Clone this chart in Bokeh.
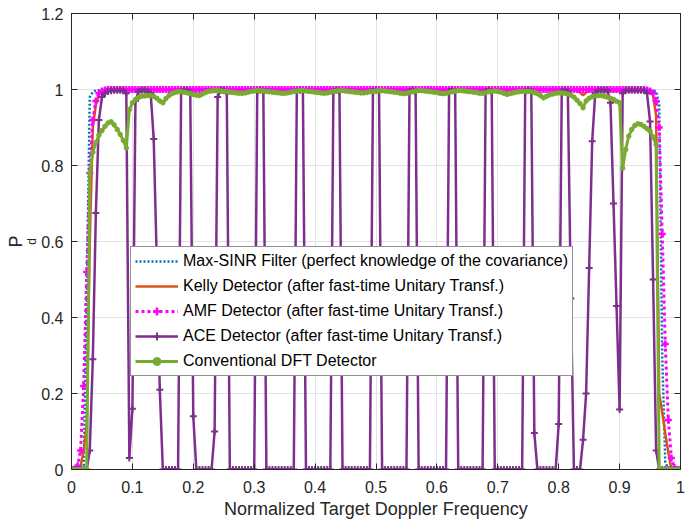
import numpy as np
from bokeh.plotting import figure
from bokeh.models import (Legend, LegendItem, LinearAxis, FixedTicker, Range1d, Title)
from bokeh.embed import file_html
from bokeh.resources import INLINE

# ---------------- data ----------------
freq = np.linspace(0.0, 1.0, 201)   # normalized target Doppler frequency grid (step 0.005)

# Max-SINR filter (sparse breakpoints)
msinr_x = [0, 0.02, 0.025, 0.03, 0.035, 0.04, 0.95, 0.96, 0.965, 0.97, 0.975, 0.98, 1.0]
msinr_y = [0, 0, 0.45, 0.98, 0.993, 0.998, 0.999, 0.995, 0.96, 0.3, 0.02, 0, 0]

# Kelly detector (sparse breakpoints)
kelly_x = [0, 0.01, 0.015, 0.02, 0.025, 0.03, 0.035, 0.04, 0.045, 0.05, 0.055,
           0.83, 0.84, 0.85, 0.95, 0.955, 0.96, 0.965, 0.97, 0.975, 0.98, 0.985, 1.0]
kelly_y = [0, 0.003, 0.01, 0.05, 0.12, 0.6, 0.9, 0.96, 0.985, 0.995, 0.999,
           0.999, 0.985, 0.999, 0.996, 0.985, 0.93, 0.2, 0.15, 0.095, 0.045, 0.0, 0.0]

# AMF detector
amf = [
    0, 0, 0.01, 0.05, 0.22, 0.52, 0.78, 0.92, 0.97, 0.99,
    0.996, 0.999, 1, 1, 1, 1, 1, 1, 1, 1,
    1, 1, 1, 1, 1, 1, 1, 1, 1, 1,
    1, 1, 1, 1, 1, 1, 1, 1, 1, 1,
    1, 1, 1, 1, 1, 1, 1, 1, 1, 1,
    1, 1, 1, 1, 1, 1, 1, 1, 1, 1,
    1, 1, 1, 1, 1, 1, 1, 1, 1, 1,
    1, 1, 1, 1, 1, 1, 1, 1, 1, 1,
    1, 1, 1, 1, 1, 1, 1, 1, 1, 1,
    1, 1, 1, 1, 1, 1, 1, 1, 1, 1,
    1, 1, 1, 1, 1, 1, 1, 1, 1, 1,
    1, 1, 1, 1, 1, 1, 1, 1, 1, 1,
    1, 1, 1, 1, 1, 1, 1, 1, 1, 1,
    1, 1, 1, 1, 1, 1, 1, 1, 1, 1,
    1, 1, 1, 1, 1, 1, 1, 1, 1, 1,
    1, 1, 1, 1, 1, 1, 1, 1, 1, 1,
    1, 1, 1, 1, 1, 1, 1, 1, 1, 1,
    1, 1, 1, 1, 1, 1, 1, 1, 1, 1,
    1, 1, 1, 1, 1, 1, 1, 1, 1, 0.999,
    0.996, 0.99, 0.97, 0.9, 0.62, 0.33, 0.13, 0.03, 0.005, 0,
    0,
]

# ACE detector
ace = [
    0, 0, 0, 0, 0, 0, 0.05, 0.29, 0.675, 0.92,
    0.98, 0.99, 0.995, 0.997, 0.998, 0.998, 0.998, 0.997, 0.99, 0.03,
    0.16, 0.97, 0.995, 0.998, 0.998, 0.995, 0.99, 0.87, 0.55, 0.21,
    0, 0, 0, 0, 0, 0, 0.995, 0.998, 0.998, 0.99,
    0.14, 0, 0, 0, 0, 0, 0, 0.1, 0.98, 0.998,
    0.998, 0.99, 0, 0, 0, 0, 0, 0, 0, 0,
    0, 0.995, 0.998, 0.995, 0, 0, 0, 0, 0, 0,
    0, 0, 0, 0, 0.995, 0.998, 0.995, 0, 0, 0,
    0, 0, 0, 0, 0, 0, 0.995, 0.998, 0.995, 0,
    0, 0, 0, 0, 0, 0, 0, 0, 0, 0.995,
    0.998, 0.995, 0, 0, 0, 0, 0, 0, 0, 0,
    0, 0.995, 0.998, 0.995, 0, 0, 0, 0, 0, 0,
    0, 0, 0, 0, 0.995, 0.998, 0.995, 0, 0, 0,
    0, 0, 0, 0, 0, 0, 0.995, 0.998, 0.995, 0,
    0, 0, 0, 0, 0, 0, 0, 0, 0, 0.995,
    0.998, 0.995, 0.096, 0, 0, 0, 0, 0, 0, 0,
    0.12, 0.995, 0.998, 0.995, 0.45, 0, 0, 0, 0.078, 0.2,
    0.53, 0.864, 0.99, 0.998, 0.998, 0.998, 0.998, 0.965, 0.7, 0.43,
    0.158, 0.99, 0.998, 0.998, 0.998, 0.998, 0.998, 0.998, 0.998, 0.99,
    0.916, 0.5, 0.05, 0, 0, 0, 0, 0, 0, 0,
    0,
]

# Conventional DFT detector
dft = [
    0, 0, 0, 0, 0, 0, 0.78, 0.835, 0.86, 0.88,
    0.892, 0.903, 0.912, 0.915, 0.907, 0.895, 0.882, 0.866, 0.846, 0.947,
    0.965, 0.973, 0.979, 0.982, 0.983, 0.984, 0.984, 0.982, 0.977, 0.97,
    0.965, 0.976, 0.984, 0.989, 0.992, 0.994, 0.994, 0.993, 0.991, 0.989,
    0.987, 0.985, 0.984, 0.988, 0.992, 0.995, 0.996, 0.997, 0.997, 0.996,
    0.995, 0.994, 0.993, 0.992, 0.991, 0.99, 0.99, 0.991, 0.993, 0.995,
    0.996, 0.997, 0.997, 0.996, 0.995, 0.994, 0.993, 0.992, 0.991, 0.99,
    0.99, 0.991, 0.993, 0.995, 0.996, 0.997, 0.997, 0.996, 0.995, 0.994,
    0.993, 0.992, 0.991, 0.99, 0.991, 0.993, 0.995, 0.996, 0.997, 0.997,
    0.996, 0.995, 0.994, 0.993, 0.992, 0.991, 0.991, 0.992, 0.994, 0.995,
    0.996, 0.997, 0.997, 0.996, 0.995, 0.994, 0.993, 0.992, 0.99, 0.989,
    0.99, 0.992, 0.994, 0.996, 0.997, 0.997, 0.996, 0.995, 0.994, 0.993,
    0.992, 0.99, 0.989, 0.99, 0.992, 0.994, 0.996, 0.997, 0.997, 0.996,
    0.995, 0.994, 0.993, 0.992, 0.99, 0.99, 0.992, 0.994, 0.995, 0.996,
    0.995, 0.993, 0.99, 0.987, 0.989, 0.991, 0.993, 0.994, 0.995, 0.995,
    0.995, 0.994, 0.992, 0.989, 0.984, 0.978, 0.982, 0.986, 0.988, 0.99,
    0.991, 0.991, 0.99, 0.988, 0.985, 0.98, 0.972, 0.963, 0.952, 0.97,
    0.977, 0.981, 0.983, 0.984, 0.984, 0.982, 0.98, 0.977, 0.974, 0.969,
    0.965, 0.793, 0.842, 0.877, 0.895, 0.905, 0.91, 0.908, 0.903, 0.897,
    0.89, 0.875, 0.855, 0, 0, 0, 0, 0, 0, 0,
    0,
]

series_labels = [
    "Max-SINR Filter (perfect knowledge of the covariance)",
    "Kelly Detector (after fast-time Unitary Transf.)",
    "AMF Detector (after fast-time Unitary Transf.)",
    "ACE Detector (after fast-time Unitary Transf.)",
    "Conventional DFT Detector",
]
colors = ["#0072BD", "#D95319", "#FF00FF", "#7E2F8E", "#77AC30"]

x_ticks = [0, 0.1, 0.2, 0.3, 0.4, 0.5, 0.6, 0.7, 0.8, 0.9, 1]
x_tick_labels = ["0", "0.1", "0.2", "0.3", "0.4", "0.5", "0.6", "0.7", "0.8", "0.9", "1"]
y_ticks = [0, 0.2, 0.4, 0.6, 0.8, 1, 1.2]
y_tick_labels = ["0", "0.2", "0.4", "0.6", "0.8", "1", "1.2"]

x_title = "Normalized Target Doppler Frequency"
y_title_main, y_title_sub = "P", "d"

# ---------------- figure ----------------
FONT = "Liberation Sans"
AX = "#262626"

p = figure(width=696, height=522, output_backend="svg", toolbar_location=None,
           x_range=Range1d(0, 1), y_range=Range1d(0, 1.2),
           min_border_left=71, min_border_right=16, min_border_top=13,
           min_border_bottom=53, background_fill_color="white",
           border_fill_color="white")
p.outline_line_color = AX
p.outline_line_width = 1

# axes
for ax, ticks, labels in ((p.xaxis[0], x_ticks, x_tick_labels),
                          (p.yaxis[0], y_ticks, y_tick_labels)):
    ax.ticker = FixedTicker(ticks=ticks)
    ax.major_label_overrides = {t: l for t, l in zip(ticks, labels)}
    ax.major_label_text_font = FONT
    ax.major_label_text_font_size = "16px"
    ax.major_label_text_color = AX
    ax.axis_line_color = AX
    ax.major_tick_line_color = AX
    ax.major_tick_in = 6
    ax.major_tick_out = 0
    ax.minor_tick_line_color = None
p.xaxis[0].major_label_standoff = 11
p.yaxis[0].major_label_standoff = 8
p.xaxis[0].axis_label = x_title
p.xaxis[0].axis_label_text_font = FONT
p.xaxis[0].axis_label_text_font_size = "18px"
p.xaxis[0].axis_label_text_font_style = "normal"
p.xaxis[0].axis_label_text_color = AX
p.xaxis[0].axis_label_standoff = 3

top_ax = LinearAxis(ticker=FixedTicker(ticks=x_ticks), major_label_text_font_size="1px",
                    major_label_text_color=None, major_label_standoff=0,
                    major_tick_in=6, major_tick_out=0,
                    minor_tick_line_color=None, axis_line_color=AX, major_tick_line_color=AX)
right_ax = LinearAxis(ticker=FixedTicker(ticks=y_ticks), major_label_text_font_size="1px",
                      major_label_text_color=None, major_label_standoff=0,
                      major_tick_in=6, major_tick_out=0,
                      minor_tick_line_color=None, axis_line_color=AX, major_tick_line_color=AX)
p.add_layout(top_ax, "above")
p.add_layout(right_ax, "right")

# y-axis title "P_d": subscript in the column next to the axis, main letter outside it
p.add_layout(Title(text=y_title_sub, align="center", offset=11, standoff=0,
                   text_font=FONT, text_font_size="12px", text_font_style="normal",
                   text_color=AX), "left")
p.add_layout(Title(text=y_title_main, align="center", offset=-6, standoff=-7,
                   text_font=FONT, text_font_size="18px", text_font_style="normal",
                   text_color=AX), "left")

p.xgrid.ticker = FixedTicker(ticks=x_ticks)
p.ygrid.ticker = FixedTicker(ticks=y_ticks)
p.grid.grid_line_color = "#E3E3E3"
p.grid.grid_line_width = 1

# ---------------- glyphs ----------------
r_msinr = p.line(msinr_x, msinr_y, line_color=colors[0], line_width=2.5, line_dash="2 2")
r_kelly = p.line(kelly_x, kelly_y, line_color=colors[1], line_width=2.5)
r_amf_l = p.line(freq, amf, line_color=colors[2], line_width=3, line_dash="3 3")
r_amf_m = p.scatter(freq, amf, marker="cross", size=7, line_color=colors[2], line_width=2.5)
r_ace_l = p.line(freq, ace, line_color=colors[3], line_width=2.5)
r_ace_m = p.scatter(freq, ace, marker="cross", size=7, line_color=colors[3], line_width=2)
r_dft_l = p.line(freq, dft, line_color=colors[4], line_width=3)
r_dft_m = p.scatter(freq, dft, marker="circle", size=4.5, line_color=colors[4],
                    fill_color=colors[4])

legend = Legend(items=[
    LegendItem(label=series_labels[0], renderers=[r_msinr]),
    LegendItem(label=series_labels[1], renderers=[r_kelly]),
    LegendItem(label=series_labels[2], renderers=[r_amf_l, r_amf_m]),
    LegendItem(label=series_labels[3], renderers=[r_ace_l, r_ace_m]),
    LegendItem(label=series_labels[4], renderers=[r_dft_l, r_dft_m]),
], location=(59, 93))
legend.label_text_font = FONT
legend.label_text_font_size = "16px"
legend.label_text_color = "#000000"
legend.glyph_width = 43
legend.glyph_height = 20
legend.label_height = 20
legend.spacing = 5
legend.padding = 4
legend.margin = 0
legend.label_standoff = 5
legend.border_line_color = AX
legend.border_line_width = 1
legend.background_fill_color = "white"
legend.background_fill_alpha = 1
p.add_layout(legend, "center")

open("out.html", "w").write(file_html(p, INLINE))
